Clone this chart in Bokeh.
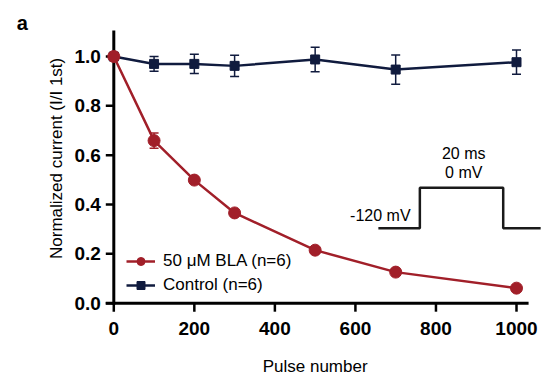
import math
from bokeh.plotting import figure
from bokeh.models import Range1d, Whisker, TeeHead, ColumnDataSource, Legend, LegendItem
from bokeh.core.properties import value
from bokeh.embed import file_html
from bokeh.resources import INLINE

pulses = [0, 100, 200, 300, 500, 700, 1000]
bla_mean = [1.0, 0.659, 0.499, 0.366, 0.215, 0.126, 0.061]
bla_sem = [0.0, 0.031, 0.012, 0.010, 0.010, 0.010, 0.010]
ctrl_mean = [1.0, 0.970, 0.970, 0.962, 0.988, 0.947, 0.977]
ctrl_sem = [0.0, 0.030, 0.039, 0.043, 0.050, 0.059, 0.049]

x_ticks = [0, 200, 400, 600, 800, 1000]
y_ticks = [0.0, 0.2, 0.4, 0.6, 0.8, 1.0]
x_tick_labels = [str(t) for t in x_ticks]
y_tick_labels = ["%.1f" % t for t in y_ticks]

# pulse protocol inset (schematic)
inset_x = [657, 760, 760, 967, 967, 1060]
inset_y = [0.304, 0.304, 0.468, 0.468, 0.304, 0.304]

RED = "#a11f29"
NAVY = "#101b3e"
FONT = "Liberation Sans"

W, H = 549, 376
# pixel scale of the data (canvas px per unit) and origin position on the canvas
SX, SY = 0.4027, 246.7
OX, OY = 113.3, 302.7

def dx(px):  # px offset -> data x units
    return px / SX

def dy(px):
    return px / SY

p = figure(width=W, height=H, output_backend="svg", toolbar_location=None,
           x_range=Range1d(-OX / SX, (W - OX) / SX),
           y_range=Range1d((OY - H) / SY, OY / SY),
           x_axis_type=None, y_axis_type=None,
           min_border=0, min_border_left=0, min_border_right=0,
           min_border_top=0, min_border_bottom=0)
p.outline_line_color = None
p.grid.visible = False
p.background_fill_color = "white"
p.border_fill_color = "white"

# axes (drawn as marks through the data scales)
p.segment(x0=[-20], y0=[0], x1=[1030], y1=[0], line_color="black", line_width=3)
p.segment(x0=[0], y0=[-dy(1.5)], x1=[0], y1=[1.105], line_color="black", line_width=3)
p.segment(x0=[-dx(8)] * len(y_ticks), y0=y_ticks, x1=[0] * len(y_ticks), y1=y_ticks,
          line_color="black", line_width=2.5)
p.segment(x0=x_ticks, y0=[0] * len(x_ticks), x1=x_ticks, y1=[-dy(8.5)] * len(x_ticks),
          line_color="black", line_width=2.5)
p.text(x=[-dx(13)] * len(y_ticks), y=y_ticks, text=y_tick_labels,
       text_align="right", text_baseline="middle", text_font=value(FONT),
       text_font_style="bold", text_font_size="19px", text_color="black")
p.text(x=x_ticks, y=[-dy(25)] * len(x_ticks), text=x_tick_labels,
       text_align="center", text_baseline="middle", text_font=value(FONT),
       text_font_style="bold", text_font_size="19px", text_color="black")
p.text(x=[500], y=[-dy(63)], text=["Pulse number"], text_align="center",
       text_baseline="middle", text_font=value(FONT), text_font_size="17px", text_color="black")
p.text(x=[-dx(57)], y=[0.587], text=["Normalized current (I/I 1st)"], angle=math.pi / 2,
       text_align="center", text_baseline="middle", text_font=value(FONT),
       text_font_size="17px", text_color="black")
p.text(x=[-dx(97)], y=[dy(280)], text=["a"], text_align="left", text_baseline="alphabetic",
       text_font=value(FONT), text_font_style="bold", text_font_size="20px", text_color="black")

def add_err(xs, m, s, color):
    src = ColumnDataSource(dict(x=xs, lo=[a - b for a, b in zip(m, s)], hi=[a + b for a, b in zip(m, s)]))
    w = Whisker(base="x", lower="lo", upper="hi", source=src, dimension="height",
                line_color=color, line_width=1.5,
                upper_head=TeeHead(size=9, line_color=color, line_width=1.5),
                lower_head=TeeHead(size=9, line_color=color, line_width=1.5))
    w.level = "underlay"
    p.add_layout(w)

add_err(pulses, ctrl_mean, ctrl_sem, NAVY)
add_err(pulses, bla_mean, bla_sem, RED)

cl = p.line(pulses, ctrl_mean, line_color=NAVY, line_width=2.5)
cs = p.scatter(pulses, ctrl_mean, marker="square", size=9, fill_color=NAVY, line_color=NAVY)
bl = p.line(pulses, bla_mean, line_color=RED, line_width=2.5)
bs = p.scatter(pulses, bla_mean, marker="circle", size=12, fill_color=RED, line_color=RED)

legend = Legend(items=[LegendItem(label="50 μM BLA (n=6)", renderers=[bl, bs]),
                       LegendItem(label="Control (n=6)", renderers=[cl, cs])],
                location=(126, 81), glyph_width=29, glyph_height=20, label_height=20,
                spacing=4, padding=0, margin=0, label_standoff=8,
                border_line_color=None, background_fill_alpha=0,
                label_text_font=FONT, label_text_font_size="17px", label_text_color="black")
p.add_layout(legend, "center")

# inset
p.line(inset_x, inset_y, line_color="#1a1a1a", line_width=2.5)
p.text(x=[737], y=[0.3555], text=["-120 mV"], text_align="right", text_baseline="middle",
       text_font=value(FONT), text_font_size="16px", text_color="black")
p.text(x=[869, 869], y=[0.6056, 0.531], text=["20 ms", "0 mV"], text_align="center",
       text_baseline="middle", text_font=value(FONT), text_font_size="16px", text_color="black")

open("out.html", "w").write(file_html(p, INLINE))
